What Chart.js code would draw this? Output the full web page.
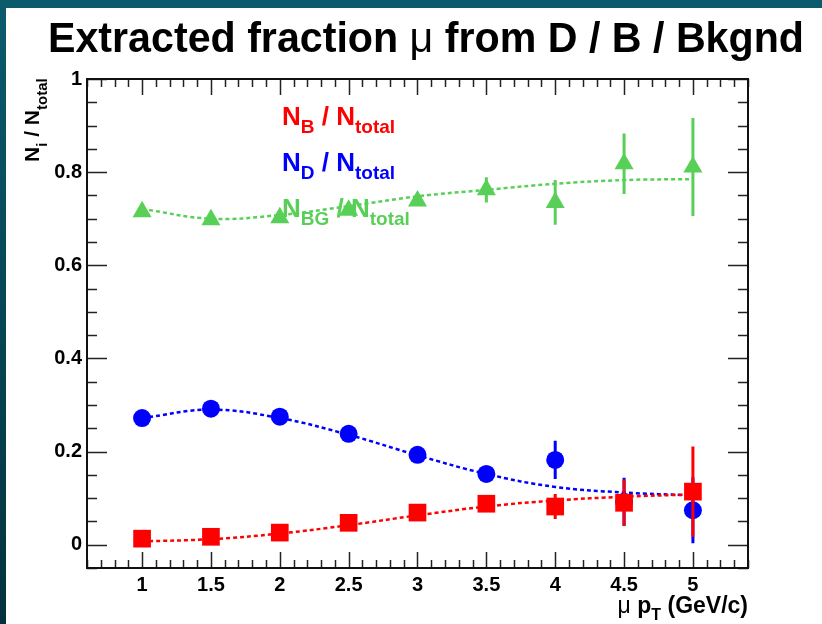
<!DOCTYPE html>
<html>
<head>
<meta charset="utf-8">
<script src="https://cdn.jsdelivr.net/npm/chart.js@4.4.0/dist/chart.umd.min.js"></script>
<style>
  html, body { margin: 0; padding: 0; background: #fff; }
  #wrap { width: 822px; height: 624px; position: relative; }
</style>
</head>
<body>
<div id="wrap"><canvas id="chart" width="822" height="624"></canvas></div>
<script>
// muon pT bins (GeV/c)
const ptBins = [1, 1.5, 2, 2.5, 3, 3.5, 4, 4.5, 5];

// extracted fractions and errors
const fracB  = [0.013, 0.017, 0.026, 0.047, 0.069, 0.088, 0.082, 0.090, 0.114];
const errB   = [0.004, 0.004, 0.005, 0.006, 0.007, 0.010, 0.027, 0.050, 0.097];
const fracD  = [0.272, 0.292, 0.275, 0.238, 0.193, 0.152, 0.182, 0.092, 0.074];
const errD   = [0.008, 0.008, 0.008, 0.009, 0.010, 0.017, 0.041, 0.052, 0.071];
const fracBG = [0.715, 0.698, 0.702, 0.718, 0.738, 0.762, 0.735, 0.818, 0.811];
const errBG  = [0.008, 0.008, 0.008, 0.009, 0.010, 0.027, 0.048, 0.065, 0.105];

// smooth fit curves, read at the bin centres
const fitB  = [0.007, 0.012, 0.024, 0.042, 0.063, 0.082, 0.095, 0.103, 0.108];
const fitD  = [0.272, 0.290, 0.272, 0.236, 0.192, 0.152, 0.124, 0.112, 0.106];
const fitBG = [0.721, 0.700, 0.708, 0.727, 0.748, 0.762, 0.775, 0.783, 0.785];

// axes
const xTicks = [1, 1.5, 2, 2.5, 3, 3.5, 4, 4.5, 5];
const yTicks = [0, 0.2, 0.4, 0.6, 0.8, 1];
const xRange = [0.6, 5.4];
const yRange = [-0.05, 1];

const titleText  = 'Extracted fraction μ from D / B / Bkgnd';
const xTitleText = 'μ p_{T} (GeV/c)';
const yTitleText = 'N_{i} / N_{total}';
const legendTexts = ['N_{B} / N_{total}', 'N_{D} / N_{total}', 'N_{BG} / N_{total}'];

const RED = '#ff0000', BLUE = '#0000ff', GREEN = 'rgb(88,208,88)';
const FONT = '"Liberation Sans", Arial, Helvetica, sans-serif';

function pts(ys) {
    return ptBins.map((x, i) => ({ x: x, y: ys[i] }));
}

// split "N_{B} / N_{total}" into normal / subscript pieces
function parseRich(str) {
    const parts = [];
    const re = /_\{([^}]*)\}|([^_]+)/g;
    let m;
    while ((m = re.exec(str)) !== null) {
        if (m[1] !== undefined) parts.push({ t: m[1], sub: true });
        else {
            // greek mu is drawn in a lighter weight, like the original
            m[2].split(/(μ)/).forEach(s => {
                if (s) parts.push({ t: s, sub: false, light: s === 'μ' });
            });
        }
    }
    return parts;
}

function richFont(p, size, subRatio) {
    const s = p.sub ? Math.round(size * subRatio) : size;
    return (p.light ? 'normal ' : 'bold ') + s + 'px ' + FONT;
}

function richWidth(ctx, parts, size, subRatio) {
    let w = 0;
    parts.forEach(p => {
        ctx.font = richFont(p, size, subRatio);
        w += ctx.measureText(p.t).width;
    });
    return w;
}

function drawRich(ctx, str, x, y, size, color, opts) {
    opts = opts || {};
    const subRatio = opts.subRatio || 0.7;
    const subShift = opts.subShift || 0.3;
    const parts = parseRich(str);
    ctx.save();
    ctx.fillStyle = color;
    ctx.textAlign = 'left';
    ctx.textBaseline = 'alphabetic';
    let w = richWidth(ctx, parts, size, subRatio);
    let sx = 1;
    if (opts.width) sx = opts.width / w;
    if (opts.alignRight) x = x - w * sx;
    ctx.translate(x, y);
    if (opts.rotate) ctx.rotate(opts.rotate);
    ctx.scale(sx, 1);
    let cx = 0;
    parts.forEach(p => {
        ctx.font = richFont(p, size, subRatio);
        ctx.fillText(p.t, cx, p.sub ? size * subShift : 0);
        cx += ctx.measureText(p.t).width;
    });
    ctx.restore();
}

// dark slide frame behind the white panel
const backdrop = {
    id: 'backdrop',
    beforeDraw(chart) {
        const ctx = chart.ctx;
        ctx.save();
        const g = ctx.createLinearGradient(0, 0, 0, chart.height);
        g.addColorStop(0, '#0b5b6d');
        g.addColorStop(1, '#03323d');
        ctx.fillStyle = g;
        ctx.fillRect(0, 0, chart.width, chart.height);
        ctx.fillStyle = '#ffffff';
        ctx.fillRect(6, 8, chart.width - 6, chart.height - 8);
        ctx.restore();
    }
};

// ROOT style frame with inward ticks on all four sides
const frame = {
    id: 'frame',
    beforeDatasetsDraw(chart) {
        const ctx = chart.ctx, a = chart.chartArea;
        const x = chart.scales.x, y = chart.scales.y;
        ctx.save();
        ctx.strokeStyle = '#222';
        ctx.lineWidth = 1.5;
        ctx.beginPath();
        for (let k = Math.ceil(x.min / 0.1 - 1e-6); k * 0.1 <= x.max + 1e-6; k++) {
            const v = k * 0.1;
            const major = Math.abs(v / 0.5 - Math.round(v / 0.5)) < 1e-6;
            const len = major ? 16 : 8;
            const px = Math.round(x.getPixelForValue(v)) + 0.5;
            ctx.moveTo(px, a.bottom); ctx.lineTo(px, a.bottom - len);
            ctx.moveTo(px, a.top); ctx.lineTo(px, a.top + len);
        }
        for (let k = Math.ceil(y.min / 0.05 - 1e-6); k * 0.05 <= y.max + 1e-6; k++) {
            const v = k * 0.05;
            const major = Math.abs(v / 0.2 - Math.round(v / 0.2)) < 1e-6;
            const len = major ? 20 : 10;
            const py = Math.round(y.getPixelForValue(v)) + 0.5;
            ctx.moveTo(a.left, py); ctx.lineTo(a.left + len, py);
            ctx.moveTo(a.right, py); ctx.lineTo(a.right - len, py);
        }
        ctx.stroke();
        ctx.strokeStyle = '#111';
        ctx.lineWidth = 2;
        ctx.strokeRect(a.left, a.top, a.right - a.left, a.bottom - a.top);
        ctx.restore();
    }
};

// vertical error bars, drawn with each marker set
const errorSets = { B: errB, D: errD, BG: errBG };
const errorBars = {
    id: 'errorBars',
    beforeDatasetDraw(chart, args) {
        const ds = chart.data.datasets[args.index];
        if (!ds.errKey) return;
        const errs = errorSets[ds.errKey];
        const ctx = chart.ctx, x = chart.scales.x, y = chart.scales.y;
        ctx.save();
        ctx.strokeStyle = ds.backgroundColor;
        ctx.lineWidth = 3;
        ctx.beginPath();
        ds.data.forEach((p, i) => {
            const px = x.getPixelForValue(p.x);
            ctx.moveTo(px, y.getPixelForValue(p.y + errs[i]));
            ctx.lineTo(px, y.getPixelForValue(p.y - errs[i]));
        });
        ctx.stroke();
        ctx.restore();
    }
};

// title, axis titles and the coloured legend text
const labels = {
    id: 'labels',
    afterDraw(chart) {
        const ctx = chart.ctx, a = chart.chartArea;
        drawRich(ctx, titleText, 48, 52, 43, '#000', { width: 756 });
        drawRich(ctx, xTitleText, a.right, 613, 23, '#000', { alignRight: true, subRatio: 0.7, subShift: 0.3 });
        drawRich(ctx, yTitleText, 39, 162, 21, '#000', { rotate: -Math.PI / 2, subRatio: 0.72, subShift: 0.4 });
        const cols = [RED, BLUE, GREEN];
        const base = [125, 171, 217];
        legendTexts.forEach((t, i) => drawRich(ctx, t, 282, base[i], 26, cols[i], { subRatio: 0.72, subShift: 0.32 }));
    }
};

const lineStyle = {
    type: 'line', showLine: true, pointRadius: 0, borderWidth: 2.5,
    borderDash: [4, 3], tension: 0.4, fill: false, order: 10
};

new Chart(document.getElementById('chart'), {
    type: 'scatter',
    data: {
        datasets: [
            Object.assign({ label: 'fit B', data: pts(fitB), borderColor: RED }, lineStyle),
            Object.assign({ label: 'fit D', data: pts(fitD), borderColor: BLUE }, lineStyle),
            Object.assign({ label: 'fit BG', data: pts(fitBG), borderColor: GREEN }, lineStyle),
            {
                label: 'N_BG / N_total', data: pts(fracBG), errKey: 'BG', order: 3,
                pointStyle: 'triangle', pointRadius: 11, backgroundColor: GREEN, borderColor: GREEN, borderWidth: 0
            },
            {
                label: 'N_D / N_total', data: pts(fracD), errKey: 'D', order: 2,
                pointStyle: 'circle', pointRadius: 9, backgroundColor: BLUE, borderColor: BLUE, borderWidth: 0
            },
            {
                label: 'N_B / N_total', data: pts(fracB), errKey: 'B', order: 1,
                pointStyle: 'rect', pointRadius: 12.5, backgroundColor: RED, borderColor: RED, borderWidth: 0
            }
        ]
    },
    options: {
        responsive: false,
        animation: false,
        devicePixelRatio: 1,
        layout: { padding: { top: 79, right: 74, left: 0, bottom: 0 } },
        plugins: { legend: { display: false }, tooltip: { enabled: false }, title: { display: false } },
        scales: {
            x: {
                type: 'linear', min: xRange[0], max: xRange[1],
                grid: { display: false, drawTicks: false },
                border: { display: false },
                afterBuildTicks: s => { s.ticks = xTicks.map(v => ({ value: v })); },
                afterFit: s => { s.height = 56; },
                ticks: {
                    padding: 5, color: '#000', maxRotation: 0, autoSkip: false,
                    font: { family: FONT, size: 20, weight: 'bold' },
                    callback: v => String(v)
                }
            },
            y: {
                type: 'linear', min: yRange[0], max: yRange[1],
                grid: { display: false, drawTicks: false },
                border: { display: false },
                afterBuildTicks: s => { s.ticks = yTicks.map(v => ({ value: v })); },
                afterFit: s => { s.width = 87; },
                ticks: {
                    padding: 5, color: '#000', autoSkip: false,
                    font: { family: FONT, size: 20, weight: 'bold' },
                    callback: v => String(Math.round(v * 10) / 10)
                }
            }
        }
    },
    plugins: [backdrop, frame, errorBars, labels]
});
</script>
</body>
</html>
